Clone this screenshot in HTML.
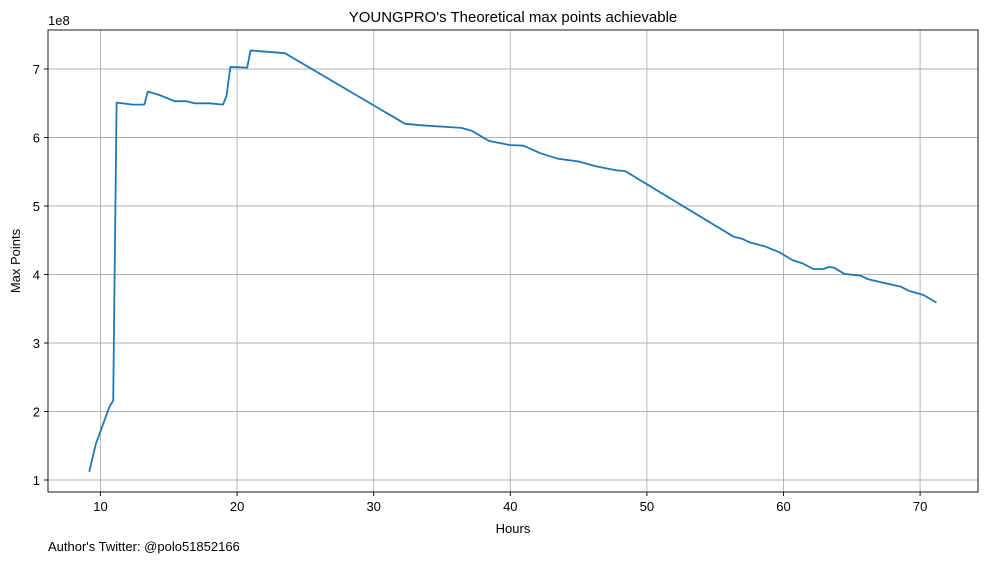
<!DOCTYPE html>
<html><head><meta charset="utf-8"><style>
body{margin:0;background:#fff;}
svg text{font-family:"Liberation Sans","DejaVu Sans",sans-serif;fill:#000;}
</style></head><body>
<svg id="chart" width="988" height="562" xmlns="http://www.w3.org/2000/svg">
<rect width="988" height="562" fill="#fff"/>
<g id="grid"></g>
<g id="ticks"></g>
<polyline id="line" fill="none" stroke="#1f77b4" stroke-width="1.8" stroke-linejoin="round"/>
<rect x="48" y="30" width="930" height="462" fill="none" stroke="#000" stroke-width="0.9"/>
<text x="513" y="22" font-size="15" text-anchor="middle">YOUNGPRO's Theoretical max points achievable</text>
<text x="513" y="533" font-size="13" text-anchor="middle">Hours</text>
<text transform="translate(20,261) rotate(-90)" font-size="13" text-anchor="middle">Max Points</text>
<text x="48" y="25" font-size="13">1e8</text>
<text x="48" y="551" font-size="13">Author's Twitter: @polo51852166</text>
</svg>
<script>
const hours=[9.17,9.66,10.64,10.93,11.18,12.35,13.21,13.46,14.31,15.42,16.27,16.89,17.99,18.97,19.22,19.51,20.74,20.98,21.67,23.5,32.3,33.38,36.42,37.17,38.43,39.95,40.96,42.22,43.48,45.0,46.26,47.78,48.41,56.36,57.0,57.5,58.64,59.65,60.66,61.41,62.17,62.93,63.3,63.7,64.44,65.7,66.2,67.5,68.6,69.2,70.25,71.2];
const maxPoints=[1.12,1.53,2.06,2.16,6.51,6.48,6.48,6.67,6.62,6.53,6.53,6.50,6.50,6.48,6.60,7.03,7.02,7.27,7.26,7.23,6.2,6.18,6.14,6.10,5.95,5.89,5.88,5.77,5.69,5.65,5.58,5.52,5.51,4.55,4.52,4.47,4.41,4.33,4.21,4.16,4.08,4.08,4.11,4.10,4.01,3.98,3.93,3.87,3.82,3.76,3.70,3.59];
const xTicks=[10,20,30,40,50,60,70];
const yTicks=[1,2,3,4,5,6,7];
const X=h=>100.5+(h-10)*13.66;
const Y=v=>480-(v-1)*68.5;
const NS="http://www.w3.org/2000/svg";
const grid=document.getElementById('grid'),ticks=document.getElementById('ticks');
function mk(tag,attrs,parent){const e=document.createElementNS(NS,tag);for(const k in attrs)e.setAttribute(k,attrs[k]);parent.appendChild(e);return e;}
xTicks.forEach(t=>{
 const g=mk('line',{x1:X(t),x2:X(t),y1:30,y2:492,stroke:'#b0b0b0','stroke-width':0.9},grid);
 
 
 mk('line',{x1:X(t),x2:X(t),y1:492,y2:496,stroke:'#000','stroke-width':0.9},ticks);
 const tx=mk('text',{x:X(t),y:511,'font-size':13,'text-anchor':'middle'},ticks);
 tx.textContent=t;
 
 
});
yTicks.forEach(t=>{
 const g=mk('line',{x1:48,x2:978,y1:Y(t),y2:Y(t),stroke:'#b0b0b0','stroke-width':0.9},grid);
 
 
 mk('line',{x1:44,x2:48,y1:Y(t),y2:Y(t),stroke:'#000','stroke-width':0.9},ticks);
 const tx=mk('text',{x:40,y:Y(t)+5,'font-size':13,'text-anchor':'end'},ticks);
 tx.textContent=t;
 
 
});
document.getElementById('line').setAttribute('points',hours.map((h,i)=>X(h).toFixed(1)+','+Y(maxPoints[i]).toFixed(1)).join(' '));
</script>
</body></html>
